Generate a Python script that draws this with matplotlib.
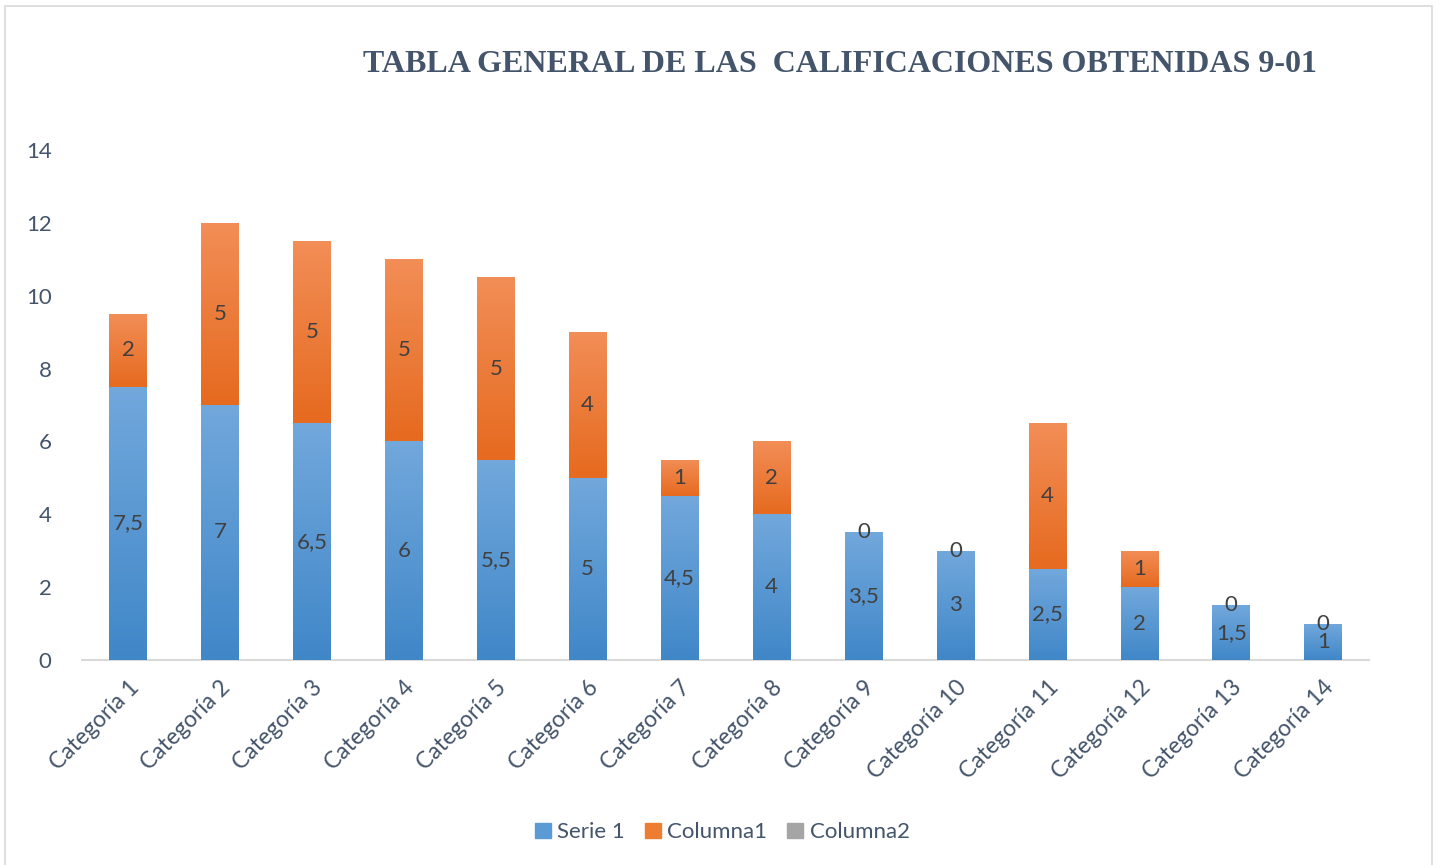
import numpy as np
import matplotlib
matplotlib.use("Agg")
import matplotlib.pyplot as plt
from matplotlib.colors import LinearSegmentedColormap
from matplotlib.patches import Patch, Rectangle

categories = [f"Categoría {i}" for i in range(1, 15)]
serie1 = [7.5, 7, 6.5, 6, 5.5, 5, 4.5, 4, 3.5, 3, 2.5, 2, 1.5, 1]
columna1 = [2, 5, 5, 5, 5, 4, 1, 2, 0, 0, 4, 1, 0, 0]
columna2 = [0] * 14
legend_labels = ["Serie 1", "Columna1", "Columna2"]

TEXT = "#44546A"
LABEL = "#404040"
FONT = "Lato"

fig = plt.figure(figsize=(14.39, 8.65), dpi=100, facecolor="white")
ax = fig.add_axes([0.057, 0.237, 0.8945, 0.5896])

x = np.arange(len(categories))
w = 0.41
b1 = ax.bar(x, serie1, w, color="#5b9bd5", zorder=2)
b2 = ax.bar(x, columna1, w, bottom=serie1, color="#ed7d31", zorder=2)
b3 = ax.bar(x, columna2, w, bottom=np.add(serie1, columna1), color="#a5a5a5", zorder=2)

# Excel style gradient fill on each segment (darker at the bottom)
grad = np.linspace(0, 1, 256).reshape(-1, 1)
def shade(bars, bottom_col, top_col):
    cmap = LinearSegmentedColormap.from_list("g", [bottom_col, top_col])
    for p in bars:
        if p.get_height() <= 0:
            continue
        x0, y0 = p.get_x(), p.get_y()
        im = ax.imshow(grad, cmap=cmap, origin="lower", aspect="auto",
                       extent=[x0, x0 + p.get_width(), y0, y0 + p.get_height()],
                       zorder=3, interpolation="bilinear")
        im.set_clip_path(p)

shade(b1, "#4087c8", "#72a8dc")
shade(b2, "#e66a1f", "#f28e57")

def fmt(v):
    return f"{v:g}".replace(".", ",")

for bars, vals in [(b1, serie1), (b2, columna1)]:
    for p, v in zip(bars, vals):
        ax.text(p.get_x() + p.get_width() / 2, p.get_y() + p.get_height() / 2,
                fmt(v), ha="center", va="center", fontsize=16,
                color=LABEL, family=FONT, zorder=5)

ax.set_xlim(-0.5, len(categories) - 0.5)
ax.set_ylim(0, 14)
ax.set_yticks(range(0, 15, 2))
ax.set_xticks(x)
ax.set_xticklabels(categories, rotation=45, ha="right", va="top",
                   rotation_mode="anchor", fontsize=16.5, color=TEXT, family=FONT)
for t in ax.get_yticklabels():
    t.set_fontsize(16)
    t.set_color(TEXT)
    t.set_family(FONT)
ax.tick_params(length=0, axis="y", pad=22)
ax.tick_params(length=0, axis="x", pad=12)
for s in ["top", "right", "left"]:
    ax.spines[s].set_visible(False)
ax.spines["bottom"].set_color("#d9d9d9")
ax.spines["bottom"].set_linewidth(1.5)

fig.text(0.584, 0.925, "TABLA GENERAL DE LAS  CALIFICACIONES OBTENIDAS 9-01",
         ha="center", va="center", fontsize=23, fontweight="bold",
         family="Liberation Serif", color=TEXT)

handles = [Patch(color=c) for c in ["#5b9bd5", "#ed7d31", "#a5a5a5"]]
fig.legend(handles, legend_labels, loc="center", bbox_to_anchor=(0.502, 0.038),
           ncol=3, frameon=False, handlelength=0.7, handleheight=0.7,
           handletextpad=0.3, columnspacing=0.9,
           prop={"family": FONT, "size": 16}, labelcolor=TEXT)

fig.add_artist(Rectangle((5 / 1439, -0.01), 1427 / 1439, 1 - 6 / 865 + 0.01,
                         transform=fig.transFigure, fill=False,
                         edgecolor="#d9d9d9", linewidth=1.2))

fig.savefig("out.png", dpi=100, facecolor="white")
